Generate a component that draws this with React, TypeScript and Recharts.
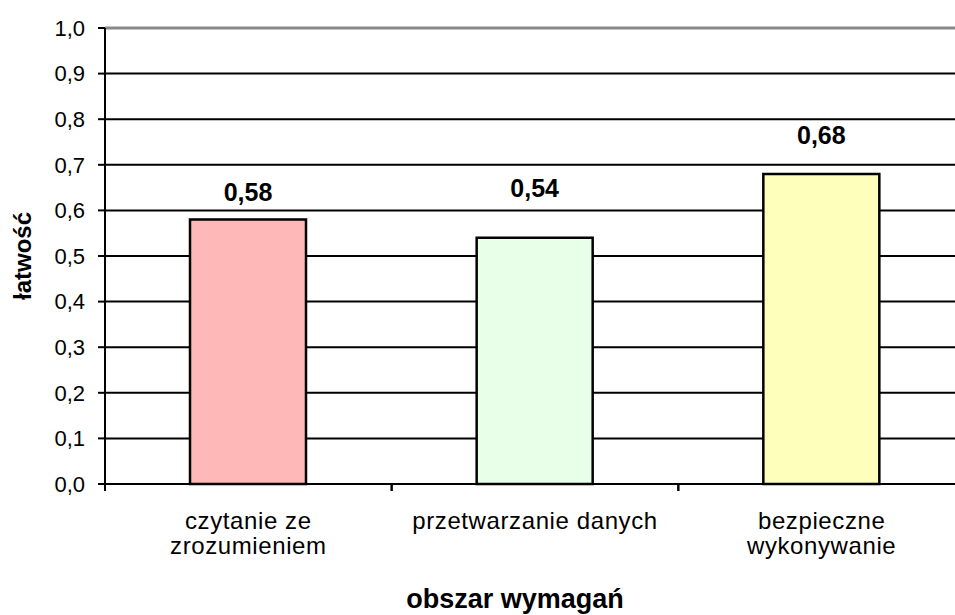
import { Bar, BarChart, CartesianGrid, Cell, LabelList, ReferenceLine, XAxis, YAxis } from 'recharts';

const categories = ['czytanie ze\nzrozumieniem', 'przetwarzanie danych', 'bezpieczne\nwykonywanie'];
const values = [0.58, 0.54, 0.68];
const barColors = ['#FFB8B8', '#E8FFE8', '#FFFFBC'];
const labelLift = [19, 41, 30];
const yTicks = [0, 0.1, 0.2, 0.3, 0.4, 0.5, 0.6, 0.7, 0.8, 0.9, 1.0];

const data = categories.map((name, i) => ({ name, value: values[i] }));

const FONT = '"Liberation Sans", Arial, sans-serif';
const CHART_W = 965;
const CHART_H = 615;
const PLOT_LEFT = 105;
const HALF_BAND = (CHART_W - PLOT_LEFT) / categories.length / 2;

const fmt = (v: number) => v.toFixed(1).replace('.', ',');

function CategoryTick({ x, y, payload }: any) {
  const lines = String(payload.value).split('\n');
  return (
    <g>
      <line x1={x - HALF_BAND} x2={x - HALF_BAND} y1={y} y2={y + 7} stroke="#000" strokeWidth={2} />
      <line x1={x + HALF_BAND} x2={x + HALF_BAND} y1={y} y2={y + 7} stroke="#000" strokeWidth={2} />
      {lines.map((l, i) => (
        <text key={i} x={x} y={y + 45 + i * 25} textAnchor="middle" fontSize={24} letterSpacing={0.6} fontFamily={FONT} fill="#000">
          {l}
        </text>
      ))}
    </g>
  );
}

function ValueLabel({ x, y, width, value, index }: any) {
  return (
    <text
      x={x + width / 2}
      y={y - labelLift[index]}
      textAnchor="middle"
      fontSize={25}
      fontWeight="bold"
      fontFamily={FONT}
      fill="#000"
    >
      {String(value).replace('.', ',')}
    </text>
  );
}

export default function App() {
  return (
    <div style={{ position: 'absolute', left: 0, top: 0, width: 955, height: CHART_H, overflow: 'hidden', background: '#fff' }}>
      <BarChart width={CHART_W} height={CHART_H} data={data} margin={{ top: 28, right: 0, left: 0, bottom: 0 }}>
        <CartesianGrid vertical={false} stroke="#000" strokeWidth={2} />
        <ReferenceLine y={1} stroke="#888" strokeWidth={3} />
        <XAxis
          dataKey="name"
          height={CHART_H - 28 - 456}
          axisLine={{ stroke: '#000', strokeWidth: 2 }}
          tickLine={false}
          tickSize={0}
          tickMargin={0}
          interval={0}
          tick={<CategoryTick />}
          label={({ viewBox }: any) => (
            <text
              x={viewBox.x + viewBox.width / 2 - 20}
              y={608}
              textAnchor="middle"
              fontSize={27}
              fontWeight="bold"
              fontFamily={FONT}
              fill="#000"
            >
              obszar wymagań
            </text>
          )}
        />
        <YAxis
          width={PLOT_LEFT}
          domain={[0, 1]}
          ticks={yTicks}
          interval={0}
          tickFormatter={fmt}
          axisLine={{ stroke: '#000', strokeWidth: 2 }}
          tickLine={{ stroke: '#000', strokeWidth: 2 }}
          tickSize={7}
          tickMargin={13}
          tick={{ fill: '#000', fontSize: 22, fontFamily: FONT }}
          label={({ viewBox }: any) => (
            <text
              x={22}
              y={viewBox.y + viewBox.height / 2}
              transform={`rotate(-90, 22, ${viewBox.y + viewBox.height / 2})`}
              textAnchor="middle"
              dominantBaseline="central"
              fontSize={24}
              fontWeight="bold"
              fontFamily={FONT}
              fill="#000"
            >
              łatwość
            </text>
          )}
        />
        <Bar dataKey="value" barSize={116} stroke="#000" strokeWidth={2.5} isAnimationActive={false}>
          {data.map((_, i) => (
            <Cell key={i} fill={barColors[i]} />
          ))}
          <LabelList dataKey="value" content={<ValueLabel />} />
        </Bar>
      </BarChart>
    </div>
  );
}
